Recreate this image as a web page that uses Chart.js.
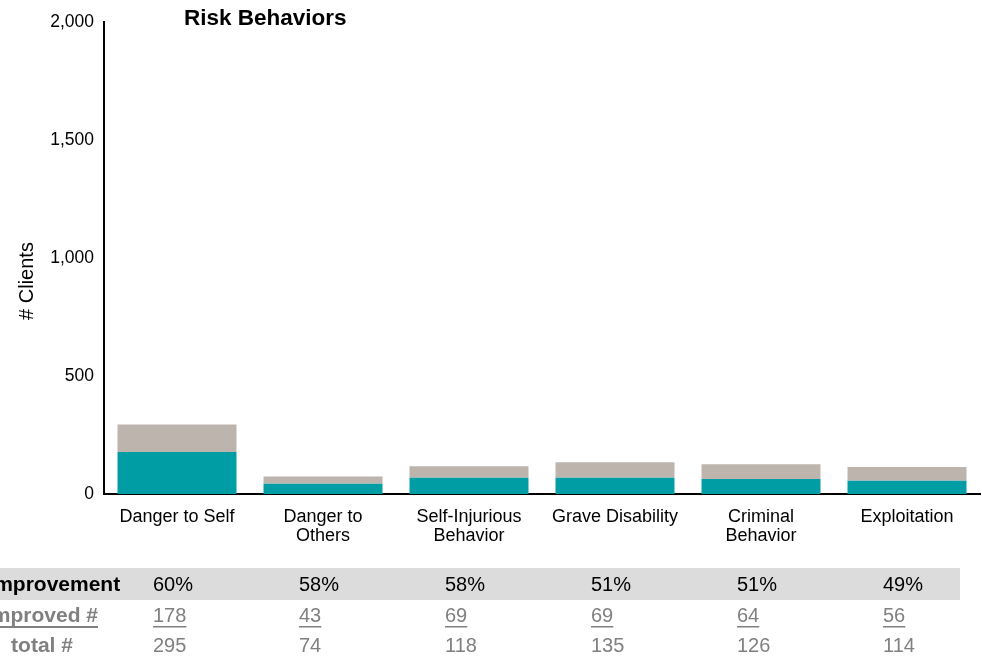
<!DOCTYPE html>
<html>
<head>
<meta charset="utf-8">
<script src="https://cdn.jsdelivr.net/npm/chart.js@4"></script>
<style>
  html, body { margin: 0; padding: 0; background: #fff; }
  #wrap { width: 982px; height: 665px; position: relative; }
</style>
</head>
<body>
<div id="wrap"><canvas id="riskCanvas" width="982" height="665"></canvas></div>
<script>
var categories = [
    'Danger to Self',
    ['Danger to', 'Others'],
    ['Self-Injurious', 'Behavior'],
    'Grave Disability',
    ['Criminal', 'Behavior'],
    'Exploitation'
];
var improved = [178, 43, 69, 69, 64, 56];
var totals = [295, 74, 118, 135, 126, 114];
var pctImproved = [60, 58, 58, 51, 51, 49];
var yTicks = [0, 500, 1000, 1500, 2000];

// gray part is whatever is left of the total on top of the improved count
var notImproved = totals.map(function (t, i) { return t - improved[i]; });

var FONT = 'Arial, "Liberation Sans", sans-serif';

// title, y axis title and the summary table under the x axis
var tablePlugin = {
    id: 'riskTable',
    afterDraw: function (chart) {
        var ctx = chart.ctx;
        var x = chart.scales.x;
        var area = chart.chartArea;
        ctx.save();

        ctx.font = 'bold 22.5px ' + FONT;
        ctx.fillStyle = '#000';
        ctx.textBaseline = 'middle';
        ctx.textAlign = 'left';
        ctx.fillText('Risk Behaviors', area.left + 80, 19);

        ctx.save();
        ctx.translate(27, (area.top + area.bottom) / 2 + 23);
        ctx.rotate(-Math.PI / 2);
        ctx.textAlign = 'center';
        ctx.font = '20px ' + FONT;
        ctx.fillText('# Clients', 0, 0);
        ctx.restore();

        var rowY = [585, 616, 646];
        ctx.fillStyle = '#dcdcdc';
        ctx.fillRect(0, 568, 960, 32);

        var labels = ['% Improvement', 'Improved #', 'total #'];
        var colors = ['#000', '#808080', '#808080'];
        var labelX = 42;
        ctx.textAlign = 'center';
        ctx.font = 'bold 21px ' + FONT;
        labels.forEach(function (lab, r) {
            ctx.fillStyle = colors[r];
            ctx.fillText(lab, labelX, rowY[r]);
            if (r === 1) {
                var w = ctx.measureText(lab).width;
                ctx.fillRect(labelX - w / 2, rowY[r] + 10, w, 2);
            }
        });

        ctx.textAlign = 'left';
        ctx.font = '20px ' + FONT;
        for (var i = 0; i < categories.length; i++) {
            var cx = x.getPixelForValue(i) - 24;
            ctx.fillStyle = '#000';
            ctx.fillText(pctImproved[i] + '%', cx, rowY[0]);
            ctx.fillStyle = '#808080';
            var s = String(improved[i]);
            ctx.fillText(s, cx, rowY[1]);
            ctx.fillRect(cx, rowY[1] + 10, ctx.measureText(s).width, 1.5);
            ctx.fillText(String(totals[i]), cx, rowY[2]);
        }
        ctx.restore();
    }
};

var ctx = document.getElementById('riskCanvas');
var chart = new Chart(ctx, {
    type: 'bar',
    data: {
        labels: categories,
        datasets: [{
            label: 'Improved',
            data: improved,
            backgroundColor: '#009ea4',
            barPercentage: 0.815,
            categoryPercentage: 1.0
        }, {
            label: 'Not improved',
            data: notImproved,
            backgroundColor: '#bdb4ae',
            barPercentage: 0.815,
            categoryPercentage: 1.0
        }]
    },
    options: {
        responsive: false,
        animation: false,
        layout: { padding: { top: 22, right: 2, left: 0, bottom: 0 } },
        plugins: {
            legend: { display: false },
            tooltip: { enabled: false }
        },
        scales: {
            x: {
                stacked: true,
                grid: { display: false },
                border: { display: true, color: '#000', width: 2 },
                ticks: {
                    color: '#000',
                    font: { family: FONT, size: 18, lineHeight: 1.08 },
                    padding: 5,
                    maxRotation: 0,
                    autoSkip: false
                },
                afterFit: function (scale) { scale.height = 171; }
            },
            y: {
                stacked: true,
                min: 0,
                max: 2000,
                afterBuildTicks: function (scale) {
                    scale.ticks = yTicks.map(function (v) { return { value: v }; });
                },
                grid: { display: false },
                border: { display: true, color: '#000', width: 2 },
                ticks: {
                    color: '#000',
                    font: { family: FONT, size: 17.5 },
                    padding: 2,
                    callback: function (v) { return v.toLocaleString('en-US'); }
                },
                afterFit: function (scale) { scale.width = 104; }
            }
        }
    },
    plugins: [tablePlugin]
});
</script>
</body>
</html>
